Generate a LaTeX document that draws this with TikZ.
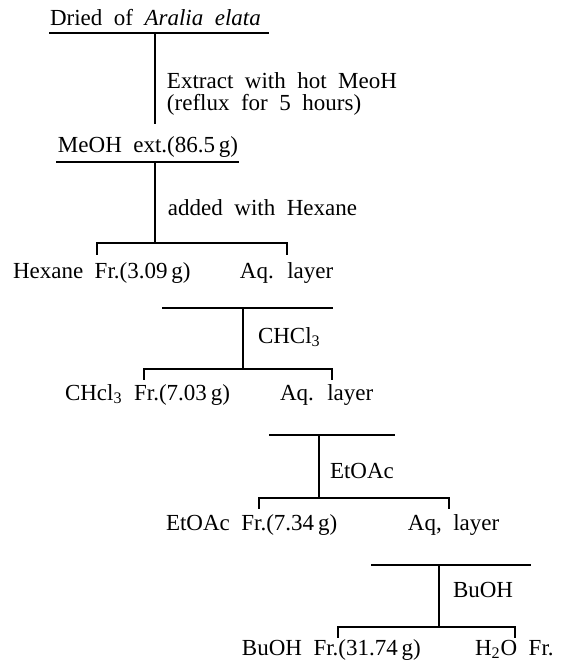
\documentclass[tikz,border=0pt]{standalone}
\usepackage{fontspec}
\setmainfont{Liberation Serif}
\newcommand\mywidesp{\spaceskip=0.5em\relax}
\begin{document}
\begin{tikzpicture}[x=0.5pt,y=-0.5pt,
  rule/.style={line width=0.8pt, line cap=rect},
  lbl/.style={anchor=base west, inner sep=0pt, outer sep=0pt,
    font=\fontsize{11.5}{14}\selectfont\mywidesp}]
\useasboundingbox (0,0) rectangle (567,666);

% level 0
\node[lbl] (t0) at (50,25) {Dried of \textit{Aralia elata}};
\coordinate (l0a) at (50,33); \coordinate (l0b) at (268,33);
\coordinate (v0a) at (155,33); \coordinate (v0b) at (155,123);
\draw[rule] (l0a) -- (l0b);
\draw[rule] (v0a) -- (v0b);
\node[lbl] (s0a) at (167,88) {Extract with hot MeoH};
\node[lbl] (s0b) at (167,110) {(reflux for 5 hours)};

% level 1
\node[lbl] (t1) at (58,152) {MeOH ext.(86.5\,g)};
\coordinate (l1a) at (57,162); \coordinate (l1b) at (238,162);
\coordinate (v1a) at (155,162); \coordinate (v1b) at (155,243);
\draw[rule] (l1a) -- (l1b);
\draw[rule] (v1a) -- (v1b);
\node[lbl] (s1) at (168,215) {added with Hexane};
\coordinate (b1l) at (97,243); \coordinate (b1r) at (287,243);
\coordinate (b1lt) at (97,254); \coordinate (b1rt) at (287,254);
\draw[rule] (b1lt) -- (b1l) -- (b1r) -- (b1rt);
\node[lbl] (f1) at (13,278) {Hexane Fr.(3.09\,g)};
\node[lbl] (a1) at (240,278) {Aq. layer};

% level 2
\coordinate (l2a) at (163,308); \coordinate (l2b) at (332,308);
\coordinate (v2a) at (243,308); \coordinate (v2b) at (243,369);
\draw[rule] (l2a) -- (l2b);
\draw[rule] (v2a) -- (v2b);
\node[lbl] (s2) at (258,343) {CHCl\textsubscript{3}};
\coordinate (b2l) at (144,369); \coordinate (b2r) at (332,369);
\coordinate (b2lt) at (144,379); \coordinate (b2rt) at (332,379);
\draw[rule] (b2lt) -- (b2l) -- (b2r) -- (b2rt);
\node[lbl] (f2) at (65,400) {CHcl\textsubscript{3} Fr.(7.03\,g)};
\node[lbl] (a2) at (280,400) {Aq. layer};

% level 3
\coordinate (l3a) at (270,435); \coordinate (l3b) at (394,435);
\coordinate (v3a) at (319,435); \coordinate (v3b) at (319,498);
\draw[rule] (l3a) -- (l3b);
\draw[rule] (v3a) -- (v3b);
\node[lbl] (s3) at (330,478) {EtOAc};
\coordinate (b3l) at (259,498); \coordinate (b3r) at (449,498);
\coordinate (b3lt) at (259,508); \coordinate (b3rt) at (449,508);
\draw[rule] (b3lt) -- (b3l) -- (b3r) -- (b3rt);
\node[lbl] (f3) at (166,530) {EtOAc Fr.(7.34\,g)};
\node[lbl] (a3) at (408,530) {Aq, layer};

% level 4
\coordinate (l4a) at (372,565); \coordinate (l4b) at (530,565);
\coordinate (v4a) at (439,565); \coordinate (v4b) at (439,627);
\draw[rule] (l4a) -- (l4b);
\draw[rule] (v4a) -- (v4b);
\node[lbl] (s4) at (453,597) {BuOH};
\coordinate (b4l) at (338,627); \coordinate (b4r) at (515,627);
\coordinate (b4lt) at (338,637); \coordinate (b4rt) at (515,637);
\draw[rule] (b4lt) -- (b4l) -- (b4r) -- (b4rt);
\node[lbl] (f4) at (242,655) {BuOH Fr.(31.74\,g)};
\node[lbl] (a4) at (475,655) {H\textsubscript{2}O Fr.};
\end{tikzpicture}
\end{document}
